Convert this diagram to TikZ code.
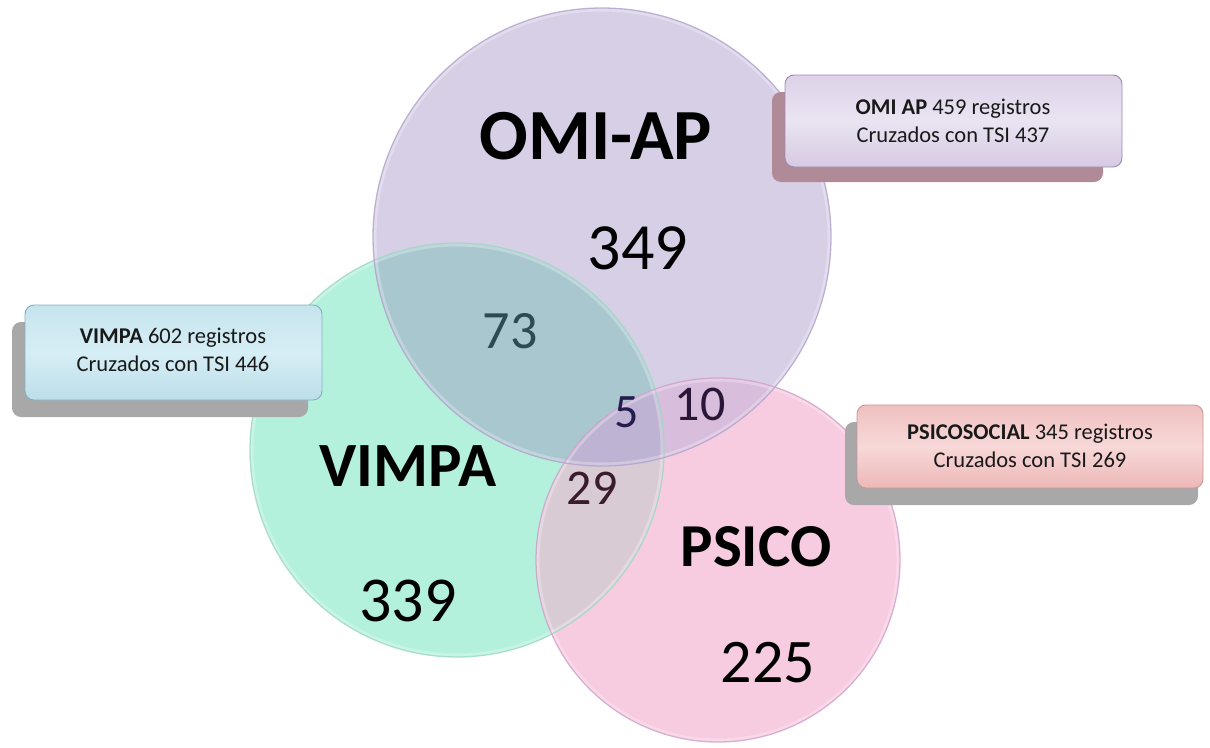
\documentclass[tikz,border=0pt]{standalone}
\usepackage{fontspec}
\setmainfont{Carlito}
\definecolor{mint}{HTML}{B3F1DC}
\definecolor{lav}{HTML}{D7CFE6}
\definecolor{pinkc}{HTML}{F7CBE0}
\definecolor{ovVO}{HTML}{A9C7CF}
\definecolor{ovVP}{HTML}{D9CBD3}
\definecolor{ovOP}{HTML}{D9BDDC}
\definecolor{ovAll}{HTML}{BFB3D3}
\definecolor{edgeV}{HTML}{9CD8C4}
\definecolor{edgeO}{HTML}{B2A2CC}
\definecolor{edgeP}{HTML}{CFA0CC}
\definecolor{shOmi}{HTML}{B08A96}
\definecolor{shGrey}{HTML}{A8A8A8}
\definecolor{t73}{HTML}{2E4B55}
\definecolor{t5}{HTML}{241E4E}
\definecolor{t10}{HTML}{2A1638}
\definecolor{t29}{HTML}{3A1C2C}
\definecolor{omiBorder}{HTML}{9D88B0}
\definecolor{omiTop}{HTML}{DDD2E8}
\definecolor{omiMid}{HTML}{EAE4F2}
\definecolor{omiBot}{HTML}{D6CAE2}
\definecolor{vimBorder}{HTML}{7FB2C4}
\definecolor{vimTop}{HTML}{C6E4EE}
\definecolor{vimMid}{HTML}{D6EEF5}
\definecolor{vimBot}{HTML}{BCDEEA}
\definecolor{psiBorder}{HTML}{C89696}
\definecolor{psiTop}{HTML}{F0C0C0}
\definecolor{psiMid}{HTML}{F8D8D8}
\definecolor{psiBot}{HTML}{EDB8B8}
\tikzset{
  biglabel/.style={font=\fontsize{72}{72}\selectfont\bfseries, text=black},
  bignum/.style={font=\fontsize{64}{64}\selectfont, text=black},
  midnum/.style={font=\fontsize{54}{54}\selectfont},
  infobox/.style={rounded corners=9pt, line width=0.9pt},
  shadowbox/.style={rounded corners=9pt},
  infotext/.style={font=\fontsize{22.5}{28}\selectfont, align=center, text=black!90},
  rim/.style={line width=1.3pt, opacity=0.8},
  glow/.style={line width=7pt, white, opacity=0.28}
}
\begin{document}
\begin{tikzpicture}[x=1pt,y=-1pt]
\useasboundingbox (0,0) rectangle (1210,747);
\def\Vc{(457,450) circle[radius=207]}
\def\Oc{(602,237) circle[radius=229]}
\def\Pc{(718,560) circle[radius=182]}
% base fills
\fill[mint] \Vc;
\fill[lav] \Oc;
\fill[pinkc] \Pc;
% overlaps
\begin{scope}\clip \Vc; \fill[ovVO] \Oc; \end{scope}
\begin{scope}\clip \Vc; \fill[ovVP] \Pc; \end{scope}
\begin{scope}\clip \Oc; \fill[ovOP] \Pc; \end{scope}
\begin{scope}\clip \Vc; \clip \Oc; \fill[ovAll] \Pc; \end{scope}
% soft inner highlights
\begin{scope}\clip \Vc; \draw[glow] \Vc; \end{scope}
\begin{scope}\clip \Oc; \draw[glow] \Oc; \end{scope}
\begin{scope}\clip \Pc; \draw[glow] \Pc; \end{scope}
% rims
\draw[rim, edgeV] \Vc;
\draw[rim, edgeO] \Oc;
\draw[rim, edgeP] \Pc;

% big labels
\node[biglabel] (omiLabel) at (596,136) {OMI-AP};
\node[bignum, font=\fontsize{66}{66}\selectfont] (omiNum) at (638,248) {349};
\node[biglabel, font=\fontsize{63}{63}\selectfont\bfseries] (vimpaLabel) at (408,466) {VIMPA};
\node[bignum] (vimpaNum) at (408,601) {339};
\node[biglabel, font=\fontsize{61}{61}\selectfont\bfseries] (psicoLabel) at (756,547) {PSICO};
\node[bignum, font=\fontsize{62}{62}\selectfont] (psicoNum) at (768,663) {225};
\node[midnum, text=t73] (n73) at (510,331) {73};
\node[midnum, text=t5, font=\fontsize{48}{48}\selectfont] (n5) at (627,412) {5};
\node[midnum, text=t10, font=\fontsize{50}{50}\selectfont] (n10) at (700,404) {10};
\node[midnum, text=t29, font=\fontsize{50}{50}\selectfont] (n29) at (592,488) {29};

% OMI info box
\fill[shOmi, shadowbox] (772,92) rectangle (1103,182);
\draw[infobox, draw=omiBorder, top color=omiTop, bottom color=omiBot, middle color=omiMid] (785,75) rectangle (1122,167);
\node[infotext] (omiInfo) at (953,121) {\textbf{OMI AP} 459 registros\\Cruzados con TSI 437};

% VIMPA info box
\fill[shGrey, shadowbox] (12,322) rectangle (308,417);
\draw[infobox, draw=vimBorder, top color=vimTop, bottom color=vimBot, middle color=vimMid] (25,305) rectangle (322,400);
\node[infotext] (vimpaInfo) at (173,350) {\textbf{VIMPA} 602 registros\\Cruzados con TSI 446};

% PSICO info box
\fill[shGrey, shadowbox] (845,422) rectangle (1198,505);
\draw[infobox, draw=psiBorder, top color=psiTop, bottom color=psiBot, middle color=psiMid] (857,405) rectangle (1203,488);
\node[infotext] (psicoInfo) at (1030,446) {\textbf{PSICOSOCIAL} 345 registros\\Cruzados con TSI 269};
\end{tikzpicture}
\end{document}
